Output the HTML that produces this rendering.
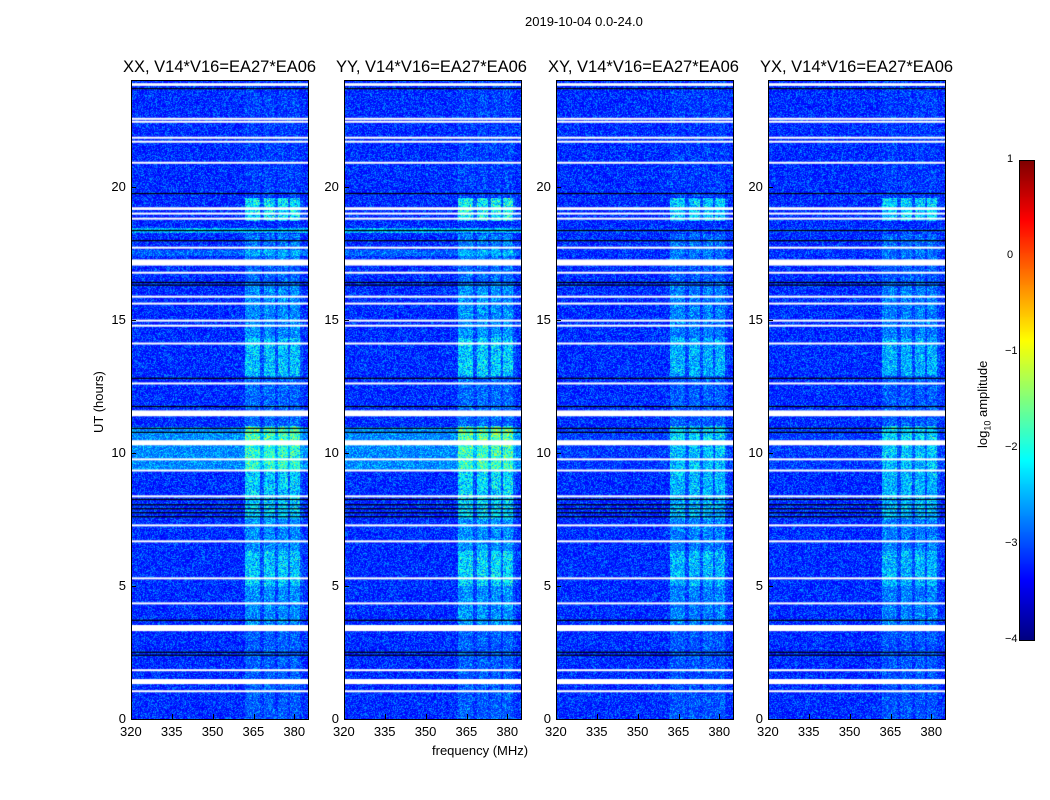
<!DOCTYPE html>
<html><head><meta charset="utf-8">
<style>
body{margin:0;background:#fff;font-family:"Liberation Sans",sans-serif;}
#root{position:relative;width:1050px;height:800px;overflow:hidden;background:#fff;}
.t{position:absolute;font-size:13px;color:#000;white-space:nowrap;}
.ttl{position:absolute;font-size:16.5px;white-space:nowrap;}
canvas{position:absolute;}
.frame{position:absolute;border:1px solid #000;box-sizing:border-box;}
</style></head><body>
<div id="root">
<div class="t" style="left:525px;top:14px">2019-10-04 0.0-24.0</div>
<div class="t" style="left:432px;top:743px">frequency (MHz)</div>
<div class="t" style="left:91px;top:433px;transform:rotate(-90deg);transform-origin:left top;">UT (hours)</div>
<canvas id="cb" width="15" height="480" style="left:1019px;top:160px"></canvas>
<div class="frame" style="left:1019px;top:160px;width:16px;height:481px"></div>
<div class="t" style="left:975px;top:448px;transform:rotate(-90deg);transform-origin:left top;">log<sub style="font-size:9px">10</sub> amplitude</div>
</div>
<script>
const panels=["XX","YY","XY","YX"];
const panelLeft=[131,344,556,768];
const xTicks=[320,335,350,365,380];
const yTicks=[0,5,10,15,20];
const cbTicks=[1,0,-1,-2,-3,-4];
const freqMin=320,freqMax=385,hourMin=0,hourMax=24;
const whiteFlags=[[23.78,23.88],[22.52,22.58],[22.41,22.47],[21.81,21.87],[21.66,21.72],[20.87,20.93],[19.12,19.22],[18.96,19.02],[18.77,18.83],[17.68,17.74],[17.03,17.26],[16.74,16.8],[15.84,15.9],[15.58,15.64],[14.94,15.0],[14.75,14.81],[14.08,14.14],[12.58,12.64],[11.37,11.59],[10.28,10.47],[9.73,9.79],[9.31,9.37],[8.34,8.4],[7.25,7.31],[6.65,6.71],[5.26,5.32],[4.32,4.38],[3.3,3.53],[1.81,1.87],[1.31,1.5],[1.02,1.08]];
const blackRows=[23.68,19.74,18.35,17.97,16.4,16.3,12.8,11.74,10.92,10.77,8.25,8.05,7.9,7.75,7.6,3.71,2.51,2.4];
const rfiBands=[[362,367.5],[369,373],[374,377.5],[378.5,382]];
const rfiStart=[0,3.5,5.0,6.3,7.5,10.3,11.0,12.9,14.3,16.3,17.1,18.7,19.6];
const rfiEnd=[3.3,5.0,6.3,7.5,10.3,11.0,12.9,14.3,16.3,17.1,18.2,19.55,24];
const rfiLevel=[0.05,0.1,0.17,0.1,0.17,0.2,0.06,0.16,0.1,0.06,0.08,0.2,0.02];
const panelAmp=[1.0,1.1,0.85,0.85];
const broadStart=[9.3,18.25,17.4];
const broadEnd=[10.95,18.45,17.6];
const broadLevel=[0.1,0.14,0.06];
const broadPanels=[1,1,0.15,0.15];

const W=177,H=639,top0=80;
const xs=f=>(f-freqMin)/(freqMax-freqMin)*W;
const ys=h=>H-(h-hourMin)/(hourMax-hourMin)*H;
function jet(v){v=Math.max(0,Math.min(1,v));
 const r=Math.min(Math.max(Math.min(4*v-1.5,-4*v+4.5),0),1);
 const g=Math.min(Math.max(Math.min(4*v-0.5,-4*v+3.5),0),1);
 const b=Math.min(Math.max(Math.min(4*v+0.5,-4*v+2.5),0),1);
 return [r*255|0,g*255|0,b*255|0];}
function hash(x,y,p){let n=x*374761393+y*668265263+p*2147483647;n=(n^(n>>13))*1274126177;n=n^(n>>16);return ((n>>>0)%1000)/1000;}
const root=document.getElementById('root');
function txt(s,l,t,name,cls){const d=document.createElement('div');d.className=cls||'t';d.textContent=s;d.style.left=l+'px';d.style.top=t+'px';
 
 
 root.appendChild(d);return d;}
panels.forEach((p,pi)=>{
 const L=panelLeft[pi];
 const c=document.createElement('canvas');c.width=W;c.height=H;c.style.left=L+'px';c.style.top=top0+'px';
 
 
 root.appendChild(c);
 const ctx=c.getContext('2d');const img=ctx.createImageData(W,H);
 for(let y=0;y<H;y++){const h=hourMax-(y+0.5)/H*(hourMax-hourMin);
  let rl=0;for(let i=0;i<rfiStart.length;i++)if(h>=rfiStart[i]&&h<rfiEnd[i])rl=rfiLevel[i];
  let bl=0;for(let i=0;i<broadStart.length;i++)if(h>=broadStart[i]&&h<broadEnd[i])bl=broadLevel[i]*broadPanels[pi];
  for(let x=0;x<W;x++){const f=freqMin+(x+0.5)/W*(freqMax-freqMin);
   const n=hash(x,y,pi);
   let v=0.12+n*n*0.16+bl*(0.6+0.6*hash(y,x,pi+3));
   let inb=false;for(const b of rfiBands)if(f>=b[0]&&f<b[1])inb=true;
   if(inb)v+=rl*panelAmp[pi]*(0.4+1.0*hash(y,x,pi+7));
   else if(f>=362&&f<383)v+=rl*panelAmp[pi]*0.2;
   const col=jet(v);const k=(y*W+x)*4;img.data[k]=col[0];img.data[k+1]=col[1];img.data[k+2]=col[2];img.data[k+3]=255;}}
 ctx.putImageData(img,0,0);
 ctx.fillStyle='#fff';
 whiteFlags.forEach(w=>{const y1=ys(w[1]),y2=ys(w[0]);ctx.fillRect(0,y1,W,Math.max(2,y2-y1));});
 ctx.fillStyle='#000';
 blackRows.forEach(h=>{ctx.fillRect(0,ys(h)-0.5,W,1.2);});
 const fr=document.createElement('div');fr.className='frame';fr.style.cssText=`left:${L}px;top:${top0}px;width:${W+1}px;height:${H+1}px`;
 
 
 root.appendChild(fr);
 txt(p+', V14*V16=EA27*EA06',L-8,58,'panel-title-'+p.toLowerCase(),'ttl');
 xTicks.forEach(v=>{const x=L+xs(v);
  const tk=document.createElement('div');tk.style.cssText=`position:absolute;left:${x}px;top:${top0+H-5}px;width:1px;height:5px;background:#000`;
  
  
  root.appendChild(tk);
  txt(String(v),x-11,724,'x-tick-label');});
 yTicks.forEach(v=>{const y=top0+ys(v);
  const tk=document.createElement('div');tk.style.cssText=`position:absolute;left:${L}px;top:${y}px;width:5px;height:1px;background:#000`;
  
  
  root.appendChild(tk);
  const s=String(v);txt(s,L-5-s.length*7.3,y-8,'y-tick-label');});
});
const cb=document.getElementById('cb').getContext('2d');
for(let y=0;y<480;y++){const c=jet(1-y/480);cb.fillStyle=`rgb(${c[0]},${c[1]},${c[2]})`;cb.fillRect(0,y,15,1);}
cbTicks.forEach((v,i)=>{const y=160+i*96;txt(v<0?'\u2212'+(-v):String(v),v<0?1005:1007,y-7,'colorbar-tick-label').style.fontSize='11px';});
</script>
</body></html>
